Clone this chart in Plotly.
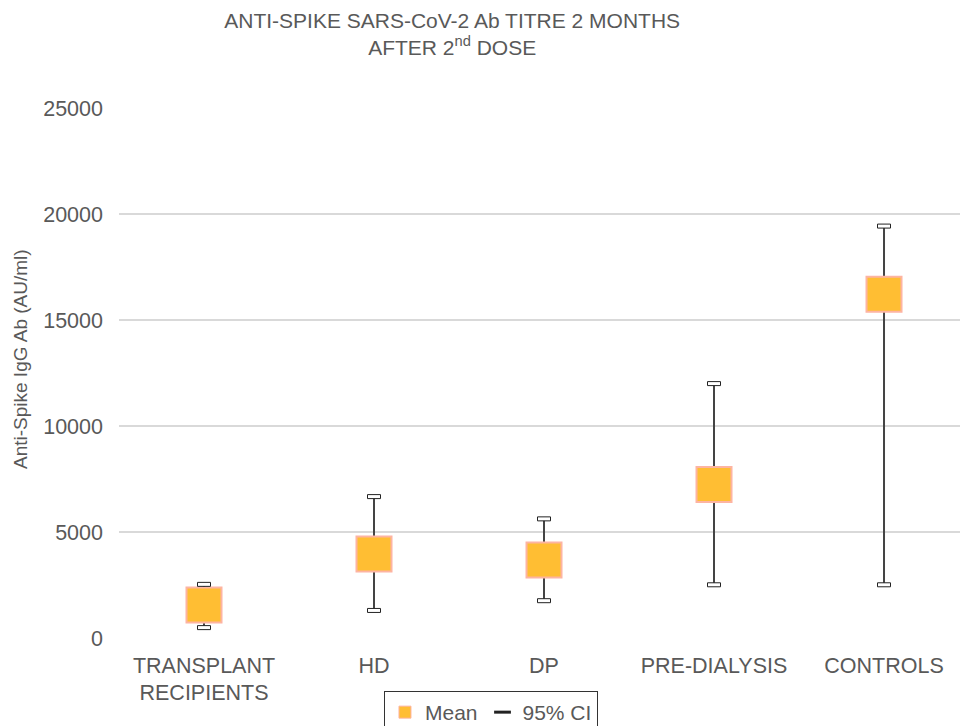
import plotly.graph_objects as go

categories = ["TRANSPLANT<br>RECIPIENTS", "HD", "DP", "PRE-DIALYSIS", "CONTROLS"]
mean_vals = [1555, 3960, 3680, 7240, 16210]
ci_upper = [2530, 6670, 5620, 12000, 19430]
ci_lower = [490, 1300, 1760, 2510, 2510]
y_ticks = [0, 5000, 10000, 15000, 20000, 25000]

FONT = "Liberation Sans, Arial, sans-serif"
TXT = "#595959"
FILL = "#FFBE33"
EDGE = "#FDB4A2"

xs = list(range(len(categories)))
err_plus = [u - m for u, m in zip(ci_upper, mean_vals)]
err_minus = [m - l for m, l in zip(mean_vals, ci_lower)]

fig = go.Figure()
fig.add_trace(go.Scatter(
    x=xs, y=mean_vals, mode="markers", name="Mean",
    marker=dict(symbol="square", size=35, color=FILL, line=dict(color=EDGE, width=2)),
    error_y=dict(type="data", symmetric=False, array=err_plus, arrayminus=err_minus,
                 width=0, thickness=2, color="#444444"),
    showlegend=False,
))
# legend entries
fig.add_trace(go.Scatter(
    x=[None], y=[None], mode="markers", name="Mean",
    marker=dict(symbol="square", size=12, color=FILL, line=dict(color=EDGE, width=1)),
))
fig.add_trace(go.Scatter(
    x=[None], y=[None], mode="markers", name="95% CI",
    marker=dict(symbol="line-ew-open", size=12, color="#222222",
                line=dict(color="#222222", width=3)),
))

shapes = []
for xi, yu, yl in zip(xs, ci_upper, ci_lower):
    for yv in (yu, yl):
        shapes.append(dict(type="rect", xref="x", yref="y",
                           xsizemode="pixel", ysizemode="pixel",
                           xanchor=xi, yanchor=yv,
                           x0=-6.5, x1=6.5, y0=-2, y1=2,
                           fillcolor="white", line=dict(color="#222222", width=1),
                           layer="above"))

fig.update_layout(
    width=960, height=726,
    margin=dict(l=119, r=0, t=108, b=88, autoexpand=False),
    paper_bgcolor="white", plot_bgcolor="white",
    font=dict(family=FONT, color=TXT, size=20),
    title=dict(text="ANTI-SPIKE SARS-CoV-2 Ab TITRE 2 MONTHS<br>AFTER 2<sup>nd</sup> DOSE",
               x=0.471, xanchor="center", xref="container", y=0.962, yanchor="top", yref="container",
               font=dict(family=FONT, size=21, color=TXT)),
    xaxis=dict(range=[-0.5, 4.447], tickvals=xs, ticktext=categories,
               showgrid=False, zeroline=False, showline=False, ticks="",
               ticklabelstandoff=12,
               tickfont=dict(size=21.5, color=TXT)),
    yaxis=dict(range=[0, 25000], tickvals=y_ticks, ticktext=[str(t) for t in y_ticks],
               showgrid=True, gridcolor="#D9D9D9", gridwidth=1.5,
               zeroline=False, showline=False, ticks="",
               ticklabelstandoff=15,
               tickfont=dict(size=21.5, color=TXT)),
    annotations=[dict(text="Anti-Spike IgG Ab (AU/ml)", textangle=-90,
                      xref="paper", yref="paper", x=(20 - 119) / 841, y=(638 - 359) / 530,
                      xanchor="center", yanchor="middle", showarrow=False,
                      font=dict(size=19, color=TXT, family=FONT))],
    legend=dict(orientation="h", x=0.4423, xanchor="center", y=-0.1, yanchor="top",
                bordercolor="#333333", borderwidth=1, bgcolor="white",
                font=dict(size=21, color=TXT), itemwidth=30),
    shapes=shapes,
    showlegend=True,
)

fig.write_html("out.html", config={"displayModeBar": False},
               post_script="document.body.style.margin='0';document.body.style.overflow='hidden';")
